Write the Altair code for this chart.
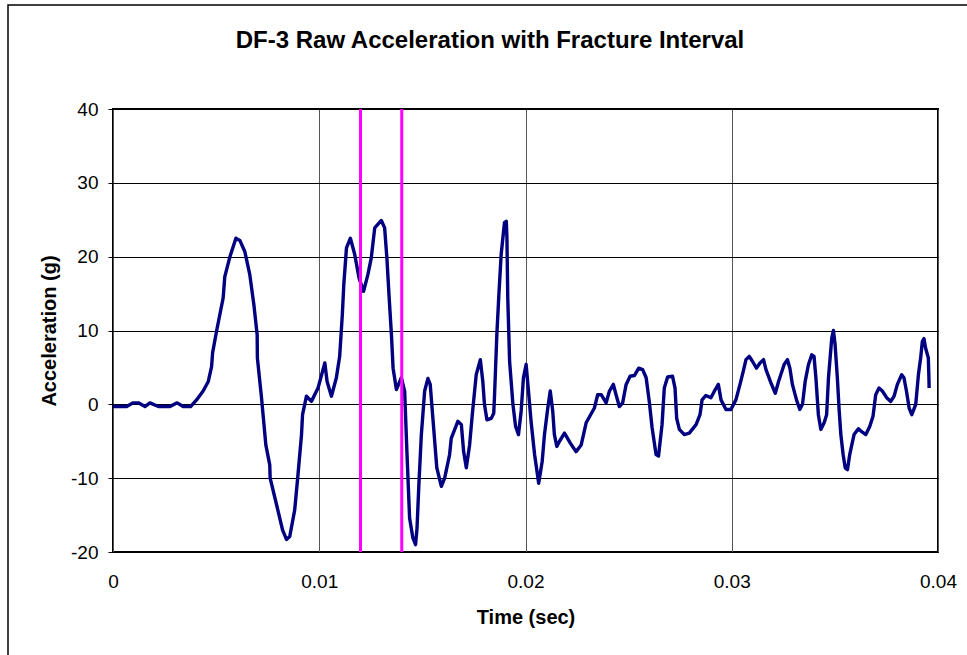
import altair as alt
import pandas as pd

# Time in milliseconds, acceleration in g
time_ms = [
    0.0, 0.66, 0.98, 1.23, 1.55, 1.79, 2.2, 2.76, 3.11, 3.4, 3.76, 4.05, 4.37, 4.62, 4.78, 4.83,
    5.02, 5.34, 5.42, 5.67, 5.96, 6.15, 6.39, 6.63, 6.83, 6.99, 7.0, 7.2, 7.41, 7.6, 7.62, 7.93,
    8.22, 8.41, 8.57, 8.81, 8.97, 9.14, 9.19, 9.38, 9.62, 9.94, 10.27, 10.38, 10.59, 10.83, 10.99,
    11.12, 11.19, 11.32, 11.51, 11.72, 11.93, 12.15, 12.36, 12.52, 12.69, 13.01, 13.17, 13.28,
    13.38, 13.5, 13.58, 13.74, 13.98, 14.14, 14.25, 14.38, 14.54, 14.67, 14.74, 14.83, 14.95,
    15.11, 15.27, 15.38, 15.51, 15.7, 15.92, 16.08, 16.32, 16.4, 16.72, 16.89, 17.0, 17.13,
    17.29, 17.42, 17.61, 17.81, 17.93, 18.01, 18.13, 18.34, 18.46, 18.5, 18.61, 18.71, 18.82,
    18.98, 19.07, 19.1, 19.14, 19.23, 19.39, 19.52, 19.66, 19.79, 19.9, 20.03, 20.16, 20.27,
    20.44, 20.64, 20.81, 20.92, 21.08, 21.2, 21.32, 21.4, 21.52, 21.65, 21.89, 22.16, 22.45,
    22.7, 22.94, 23.34, 23.5, 23.67, 23.91, 24.07, 24.26, 24.39, 24.55, 24.71, 24.88, 25.07,
    25.28, 25.49, 25.68, 25.85, 26.0, 26.14, 26.33, 26.45, 26.62, 26.73, 26.89, 27.13, 27.25,
    27.33, 27.46, 27.7, 27.94, 28.27, 28.46, 28.56, 28.75, 28.99, 29.2, 29.35, 29.48, 29.72,
    29.96, 30.2, 30.4, 30.56, 30.69, 30.85, 31.01, 31.2, 31.37, 31.54, 31.66, 31.9, 32.11,
    32.27, 32.54, 32.7, 32.82, 32.94, 33.14, 33.3, 33.43, 33.56, 33.72, 33.88, 33.99, 34.08,
    34.2, 34.32, 34.48, 34.6, 34.69, 34.85, 34.93, 35.01, 35.12, 35.21, 35.29, 35.4, 35.5,
    35.61, 35.72, 35.82, 35.93, 36.14, 36.3, 36.5, 36.69, 36.85, 36.98, 37.14, 37.3, 37.51,
    37.71, 37.87, 38.03, 38.24, 38.35, 38.47, 38.6, 38.73, 38.92, 39.05, 39.16, 39.24, 39.32,
    39.4, 39.53, 39.56, 39.57,
]
accel_g = [
    -0.3, -0.3, 0.2, 0.2, -0.3, 0.2, -0.3, -0.3, 0.2, -0.3, -0.3, 0.6, 1.8, 3.1, 5.1, 7.0,
    9.9, 14.4, 17.3, 20.0, 22.5, 22.2, 20.7, 17.6, 13.5, 9.4, 6.3, 0.9, -5.5, -8.2, -10.0, -13.6,
    -17.0, -18.3, -17.9, -14.3, -9.5, -4.1, -1.4, 1.1, 0.4, 2.2, 5.6, 3.1, 1.1, 3.6, 6.5,
    12.2, 16.2, 21.2, 22.5, 20.3, 17.1, 15.3, 17.6, 19.8, 23.9, 24.9, 23.9, 19.8,
    14.9, 9.4, 4.9, 2.0, 3.6, 1.8, -6.4, -15.4, -18.1, -19.0, -16.8, -10.9, -4.1,
    1.8, 3.5, 2.7, -1.9, -8.6, -11.1, -10.0, -6.8, -4.6, -2.3, -2.75, -6.4, -8.6,
    -5.5, -1.4, 4.0, 6.05, 3.1, 0.0, -2.1, -1.9, -1.2, 1.3, 9.4, 14.9, 20.3,
    24.6, 24.8, 22.5, 14.4, 5.8, 0.0, -3.0, -4.1, -0.9, 3.6, 5.4, 1.3, -2.3,
    -6.8, -10.7, -7.7, -4.1, -0.5, 1.8, -0.9, -4.1, -5.7, -5.0, -3.9, -5.2, -6.4,
    -5.5, -2.5, -0.5, 1.3, 1.3, 0.2, 1.8, 2.7, 1.3, -0.3, 0.2, 2.7, 3.8,
    3.9, 4.9, 4.7, 3.6, 0.4, -3.2, -6.8, -7.0, -2.75, 2.2, 3.7, 3.8, 2.2,
    -1.9, -3.4, -4.1, -3.9, -2.75, -1.4, 0.6, 1.2, 0.9, 2.0, 2.7, 0.6, -0.7,
    -0.7, 0.6, 2.7, 4.5, 6.05, 6.5, 5.8, 4.9, 5.6, 6.05, 4.7, 2.9, 1.5,
    3.1, 5.4, 6.05, 4.9, 2.7, 0.6, -0.7, 0.0, 3.1, 5.4, 6.7, 6.5, 3.6,
    -1.4, -3.4, -2.5, -1.4, 3.6, 9.0, 10.0, 8.1, 3.6, -0.9, -4.1, -6.8, -8.6,
    -8.85, -6.8, -5.5, -4.1, -3.3, -3.7, -4.1, -3.0, -1.6, 1.3, 2.2, 1.8, 0.9,
    0.4, 1.1, 2.7, 4.0, 3.6, 1.8, -0.5, -1.4, 0.0, 4.0, 6.3, 8.5, 8.9,
    7.6, 6.3, 3.6, 2.2,
]
fracture_times = [0.012, 0.014]
x_ticks = [0, 0.01, 0.02, 0.03, 0.04]
y_ticks = [-20, -10, 0, 10, 20, 30, 40]
title_text = "DF-3 Raw Acceleration with Fracture Interval"

FONT = "Liberation Sans"
W, H = 825, 443

df = pd.DataFrame({
    "i": list(range(len(time_ms))),
    "t": [v / 1000.0 for v in time_ms],
    "a": accel_g,
})
rules_df = pd.DataFrame({"t": fracture_times})

x_scale = alt.Scale(domain=[0, 0.04], nice=False, zero=False)
y_scale = alt.Scale(domain=[-20, 40], nice=False, zero=False)

x_axis = alt.Axis(
    title="Time (sec)", values=x_ticks, format=".2~f", ticks=False, domain=False,
    labelFont=FONT, labelFontSize=19, labelColor="black", labelPadding=35,
    labelBaseline="alphabetic", labelFlush=False,
    titleFont=FONT, titleFontSize=20, titleFontWeight="bold", titleColor="black",
    titleX=W / 2, titleY=71, titleBaseline="alphabetic", titleAlign="center",
    grid=True, gridColor="#555555", gridWidth=1,
)
y_axis = alt.Axis(
    title="Acceleration (g)", values=y_ticks, ticks=True, tickSize=5, tickColor="black",
    tickWidth=1, domain=False, labelExpr="toString(datum.value)",
    labelFont=FONT, labelFontSize=19, labelColor="black", labelPadding=10,
    titleFont=FONT, titleFontSize=20, titleFontWeight="bold", titleColor="black",
    titleAngle=270, titleX=-58, titleY=H / 2, titleBaseline="alphabetic", titleAlign="center",
    grid=True, gridColor="black", gridWidth=1,
)

line = alt.Chart(df).mark_line(color="#000080", strokeWidth=3.4, strokeJoin="round").encode(
    x=alt.X("t:Q", scale=x_scale, axis=x_axis),
    y=alt.Y("a:Q", scale=y_scale, axis=y_axis),
    order="i:Q",
)

rules = alt.Chart(rules_df).mark_rule(color="#FF00FF", strokeWidth=3).encode(
    x=alt.X("t:Q", scale=x_scale),
)

one = alt.Data(values=[{"k": 1}])
frame = alt.Chart(one).mark_rect(fill=None, stroke="black", strokeWidth=1.5).encode(
    x=alt.value(-105), y=alt.value(-104), x2=alt.value(1000), y2=alt.value(700),
)
title = alt.Chart(one).mark_text(
    text=title_text, font=FONT, fontSize=24, fontWeight="bold", align="center",
    baseline="alphabetic", color="black",
).encode(x=alt.value(377), y=alt.value(-61))

chart = alt.layer(frame, line, rules, title).properties(
    width=W, height=H,
    autosize=alt.AutoSizeParams(type="none"),
    padding={"left": 113, "top": 109, "right": 29, "bottom": 103},
    background="white",
).configure_view(stroke="black", strokeWidth=2)

chart.save("out.html", embed_options={"renderer": "svg", "actions": False})
